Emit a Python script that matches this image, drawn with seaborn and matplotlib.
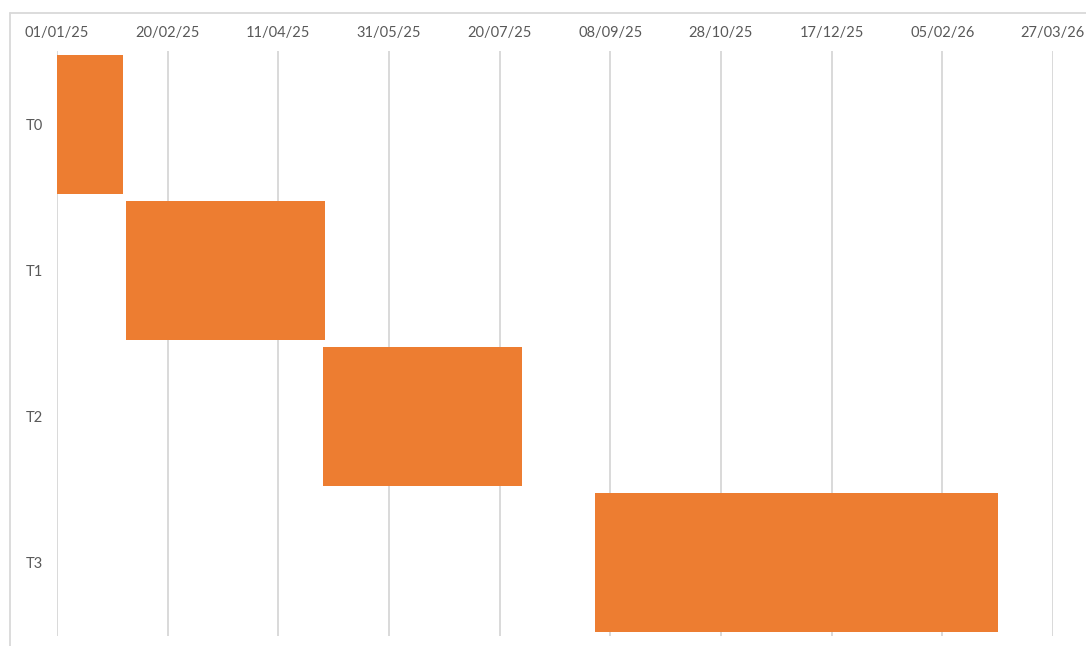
import matplotlib
matplotlib.use("Agg")
import matplotlib.dates as mdates
import matplotlib.pyplot as plt
import matplotlib.ticker as mticker
from matplotlib.lines import Line2D
import pandas as pd
import seaborn as sns

# Task schedule
tasks = ["T0", "T1", "T2", "T3"]
starts = ["2025-01-01", "2025-02-01", "2025-05-01", "2025-09-01"]
durations = [30, 90, 90, 182]  # days

# Axis range and tick spacing (days)
axis_start = "2025-01-01"
axis_end = "2026-03-27"
tick_step = 50

sns.set_theme(style="white")
plt.rcParams["font.family"] = ["Lato", "DejaVu Sans"]

start_num = mdates.date2num(pd.to_datetime(starts))
df = pd.DataFrame({"task": tasks, "duration": durations})

fig = plt.figure(figsize=(10.86, 6.46), dpi=100)
ax = fig.add_axes([0.0525, 0.0155, 0.917, 0.9055])

sns.barplot(data=df, x="duration", y="task", left=start_num, color="#ED7D31",
            saturation=1, width=0.95, errorbar=None, ax=ax, zorder=3,
            linewidth=0)

x0 = mdates.date2num(pd.Timestamp(axis_start))
x1 = mdates.date2num(pd.Timestamp(axis_end))
ax.set_xlim(x0, x1)
ax.set_ylim(3.5, -0.5)

ticks = [x0 + i * tick_step for i in range(int((x1 - x0) // tick_step) + 1)]
ax.xaxis.set_major_locator(mticker.FixedLocator(ticks))
ax.xaxis.set_major_formatter(
    mticker.FuncFormatter(lambda v, _: mdates.num2date(v).strftime("%d/%m/%y")))
ax.xaxis.tick_top()
ax.tick_params(axis="x", length=0, pad=8, labelsize=10.5, labelcolor="#595959")
ax.tick_params(axis="y", length=0, pad=10, labelsize=10.5, labelcolor="#595959")
ax.set_xlabel("")
ax.set_ylabel("")

ax.grid(axis="x", color="#d9d9d9", linewidth=1.4, zorder=0)
ax.grid(axis="y", visible=False)
for s in ax.spines.values():
    s.set_visible(False)

# Chart-area border
border = "#d9d9d9"
fig.add_artist(Line2D([9.5 / 1086, 1.0], [1 - 13 / 646, 1 - 13 / 646],
                      transform=fig.transFigure, color=border, linewidth=1.3))
fig.add_artist(Line2D([9.5 / 1086, 9.5 / 1086], [0.0, 1 - 13 / 646],
                      transform=fig.transFigure, color=border, linewidth=1.3))

fig.savefig("out.png", dpi=100)
